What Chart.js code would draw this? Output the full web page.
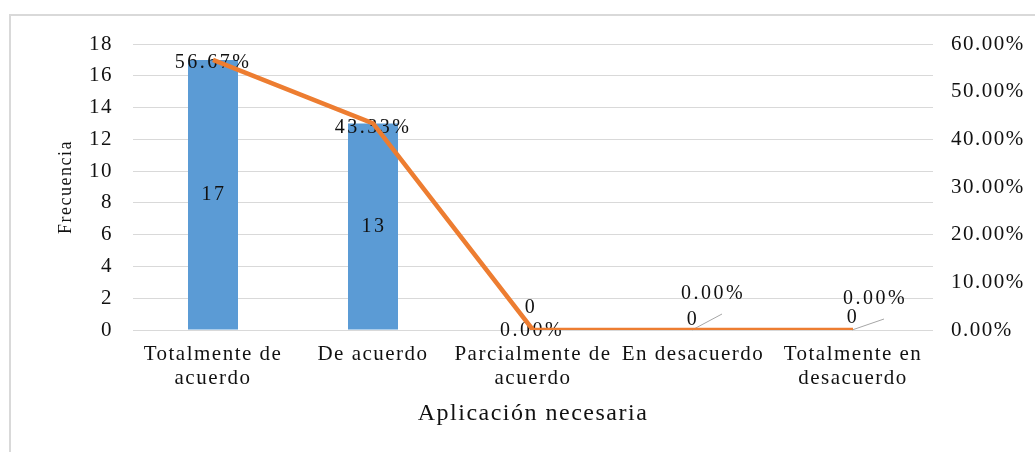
<!DOCTYPE html>
<html lang="es">
<head>
<meta charset="utf-8">
<title>Aplicación necesaria</title>
<script src="https://cdn.jsdelivr.net/npm/chart.js@4.4.1/dist/chart.umd.min.js"></script>
<style>
  body { margin: 0; background: #fff; }
  #marco {
    position: absolute; left: 9px; top: 14px;
    width: 1040px; height: 450px;
    border: 2px solid #d9d9d9;
  }
  #grafico { position: absolute; left: 0; top: 0; }
</style>
</head>
<body>
<div id="marco"></div>
<canvas id="grafico" width="1035" height="452"></canvas>
<script>
// Datos
const categorias = [
  ["Totalmente de", "acuerdo"],
  "De acuerdo",
  ["Parcialmente de", "acuerdo"],
  "En desacuerdo",
  ["Totalmente en", "desacuerdo"]
];
const frecuencia = [17, 13, 0, 0, 0];
const porcentaje = [0.5667, 0.4333, 0, 0, 0];

const fuente = '"Liberation Serif", "Times New Roman", serif';
const colorTexto = "#111";

// desplazamiento de las etiquetas respecto del punto (solo estilo)
const despFrecuencia = [null, null, [-3, -22], [-1, -10], [-1, -12]];
const despPorcentaje = [[-1, 3], [-1, 4], [-2, 1], [19, -36], [21, -31]];
const conGuia = [false, false, false, true, true];

// etiquetas de datos: se dibujan despues de las barras y antes de la linea
const etiquetas = {
  id: "etiquetas",
  afterDatasetDraw(chart, args) {
    if (args.index !== 0) return;
    const ctx = chart.ctx;
    const barras = chart.getDatasetMeta(0).data;
    const puntos = chart.getDatasetMeta(1).data;
    ctx.save();
    ctx.font = "20px " + fuente;
    ctx.letterSpacing = "2.5px";
    ctx.fillStyle = colorTexto;
    ctx.textAlign = "center";
    ctx.textBaseline = "middle";

    barras.forEach((barra, i) => {
      let x = barra.x, y = (barra.y + barra.base) / 2;
      if (despFrecuencia[i]) {
        x += despFrecuencia[i][0];
        y = barra.base + despFrecuencia[i][1];
      }
      ctx.fillText(String(frecuencia[i]), x + 1, y);
    });

    puntos.forEach((p, i) => {
      const d = despPorcentaje[i];
      if (conGuia[i]) {
        // linea guia gris
        ctx.strokeStyle = "#a6a6a6";
        ctx.lineWidth = 1;
        ctx.beginPath();
        ctx.moveTo(p.x - 1, p.y);
        ctx.lineTo(p.x + d[0] + 10, p.y + d[1] + 20);
        ctx.stroke();
      }
      ctx.fillText((porcentaje[i] * 100).toFixed(2) + "%", p.x + d[0] + 1, p.y + d[1]);
    });
    ctx.restore();
  }
};

// un poco de espaciado entre letras para parecerse al original
const espaciado = {
  id: "espaciado",
  beforeDraw(chart) {
    chart.ctx.letterSpacing = "1.5px";
  }
};

Chart.defaults.font.family = fuente;
Chart.defaults.color = colorTexto;

const ctx = document.getElementById("grafico").getContext("2d");
new Chart(ctx, {
  type: "bar",
  data: {
    labels: categorias,
    datasets: [
      {
        label: "Frecuencia",
        data: frecuencia,
        backgroundColor: "#5b9bd5",
        barPercentage: 0.3125,
        categoryPercentage: 1,
        yAxisID: "y",
        order: 2
      },
      {
        type: "line",
        label: "Porcentaje",
        data: porcentaje,
        borderColor: "#ed7d31",
        borderWidth: 4.5,
        pointRadius: 0,
        tension: 0,
        yAxisID: "y1",
        order: 1
      }
    ]
  },
  options: {
    responsive: false,
    animation: false,
    layout: { padding: { top: 44, left: 0, right: 0, bottom: 0 } },
    plugins: {
      legend: { display: false },
      tooltip: { enabled: false }
    },
    scales: {
      x: {
        grid: { display: false, drawTicks: false },
        border: { display: false },
        ticks: {
          autoSkip: false,
          maxRotation: 0,
          minRotation: 0,
          padding: 13,
          font: { size: 21, lineHeight: 1.14 }
        },
        title: {
          display: true,
          text: "Aplicación necesaria",
          font: { size: 24 },
          padding: { top: 0, bottom: 24 }
        },
        afterFit(scale) { scale.height = 122; }
      },
      y: {
        position: "left",
        min: 0,
        max: 18,
        grid: { color: "#d9d9d9", drawTicks: false },
        border: { display: false },
        ticks: { stepSize: 2, padding: 20, font: { size: 21 } },
        title: {
          display: true,
          text: "Frecuencia",
          font: { size: 18 },
          padding: { top: 55, bottom: 0 }
        },
        afterFit(scale) { scale.width = 133; }
      },
      y1: {
        position: "right",
        min: 0,
        max: 0.6,
        grid: { display: false, drawTicks: false },
        border: { display: false },
        ticks: {
          stepSize: 0.1,
          padding: 18,
          font: { size: 21 },
          callback: (v) => (v * 100).toFixed(2) + "%"
        },
        afterFit(scale) { scale.width = 102; }
      }
    }
  },
  plugins: [espaciado, etiquetas]
});
</script>
</body>
</html>
